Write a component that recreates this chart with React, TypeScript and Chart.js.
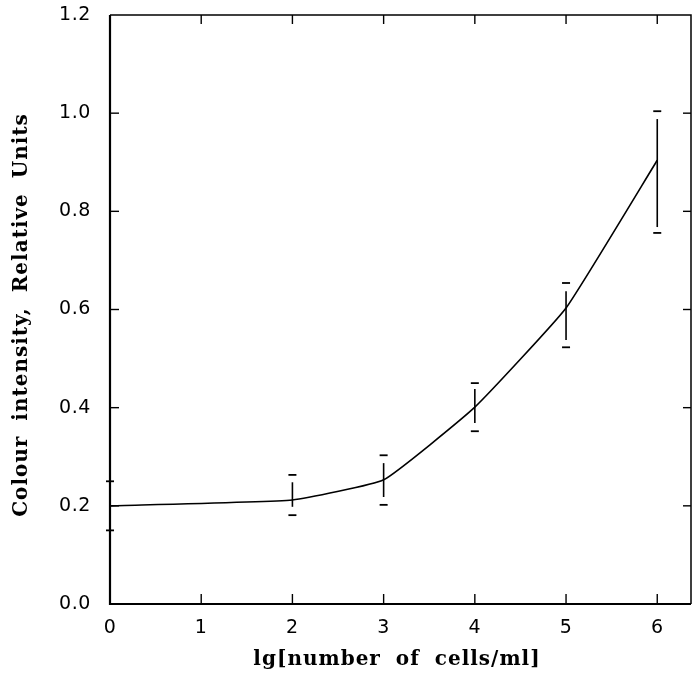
import React, { useEffect, useRef } from "react";
import { Chart, registerables } from "chart.js";

Chart.register(...registerables);

const xValues = [0, 2, 3, 4, 5, 6];
const yValues = [0.2, 0.212, 0.253, 0.401, 0.603, 0.904];
const capHigh = [0.25, 0.263, 0.303, 0.45, 0.654, 1.004];
const capLow = [0.15, 0.181, 0.202, 0.352, 0.523, 0.756];
const barHigh = [0.235, 0.248, 0.287, 0.438, 0.637, 0.988];
const barLow = [0.165, 0.198, 0.218, 0.369, 0.538, 0.768];
const xTicks = [0, 1, 2, 3, 4, 5, 6];
const yTicks = [0, 0.2, 0.4, 0.6, 0.8, 1.0, 1.2];
const xTitle = "lg[number of cells/ml]";
const yTitle = "Colour intensity, Relative Units";

const spacingPlugin = {
  id: "spacing",
  beforeDraw(chart: any) {
    const ctx = chart.ctx as any;
    ctx.letterSpacing = "0.6px";
  },
};

const decorPlugin = {
  id: "decor",
  afterDatasetsDraw(chart: any) {
    const { chartArea, scales } = chart;
    const ctx = chart.ctx as any;
    const xs = scales.x;
    const ys = scales.y;
    const { left, right, top, bottom } = chartArea;
    ctx.save();
    ctx.strokeStyle = "#000";
    // error bars
    for (let i = 0; i < xValues.length; i++) {
      const px = xs.getPixelForValue(xValues[i]);
      ctx.lineWidth = 1.6;
      ctx.beginPath();
      ctx.moveTo(px, ys.getPixelForValue(barHigh[i]));
      ctx.lineTo(px, ys.getPixelForValue(barLow[i]));
      ctx.stroke();
      ctx.lineWidth = 1.8;
      for (const v of [capHigh[i], capLow[i]]) {
        const py = ys.getPixelForValue(v);
        ctx.beginPath();
        ctx.moveTo(px - 4, py);
        ctx.lineTo(px + 4, py);
        ctx.stroke();
      }
    }
    // frame
    ctx.lineWidth = 1.5;
    ctx.beginPath();
    ctx.moveTo(left, top);
    ctx.lineTo(right, top);
    ctx.lineTo(right, bottom);
    ctx.stroke();
    ctx.lineWidth = 2.2;
    ctx.beginPath();
    ctx.moveTo(left, top);
    ctx.lineTo(left, bottom);
    ctx.lineTo(right, bottom);
    ctx.stroke();
    // inward ticks
    ctx.lineWidth = 1.4;
    for (const t of xTicks) {
      const px = xs.getPixelForValue(t);
      if (t !== 0) {
        ctx.beginPath();
        ctx.moveTo(px, bottom);
        ctx.lineTo(px, bottom - 10);
        ctx.stroke();
        ctx.beginPath();
        ctx.moveTo(px, top);
        ctx.lineTo(px, top + 9);
        ctx.stroke();
      }
    }
    for (const t of yTicks) {
      const py = ys.getPixelForValue(t);
      if (t !== 0 && t !== 1.2) {
        ctx.beginPath();
        ctx.moveTo(left, py);
        ctx.lineTo(left + 9, py);
        ctx.stroke();
        ctx.beginPath();
        ctx.moveTo(right, py);
        ctx.lineTo(right - 8, py);
        ctx.stroke();
      }
    }
    // titles
    ctx.fillStyle = "#000";
    ctx.font = "bold 20px 'DejaVu Serif', serif";
    ctx.letterSpacing = "1px";
    ctx.wordSpacing = "7px";
    ctx.textAlign = "center";
    ctx.textBaseline = "middle";
    ctx.fillText(xTitle, 397, 660);
    ctx.save();
    ctx.translate(22, 315);
    ctx.rotate(-Math.PI / 2);
    ctx.fillText(yTitle, 0, 0);
    ctx.restore();
    ctx.restore();
  },
};

export default function App() {
  const ref = useRef<HTMLCanvasElement>(null);
  useEffect(() => {
    document.body.style.margin = "0";
    const chart = new Chart(ref.current!, {
      type: "line",
      data: {
        datasets: [
          {
            data: xValues.map((x, i) => ({ x, y: yValues[i] })),
            borderColor: "#000",
            borderWidth: 1.6,
            pointRadius: 0,
            tension: 0.12,
            fill: false,
          },
        ],
      },
      options: {
        animation: false,
        responsive: false,
        maintainAspectRatio: false,
        layout: { padding: { top: 15, right: 2, left: 0, bottom: 0 } },
        plugins: { legend: { display: false }, tooltip: { enabled: false } },
        scales: {
          x: {
            type: "linear",
            min: 0,
            max: 6.37,
            afterFit(s: any) {
              s.height = 73;
              s.paddingLeft = 0;
              s.paddingRight = 0;
            },
            afterBuildTicks(s: any) {
              s.ticks = xTicks.map((v) => ({ value: v }));
            },
            grid: { display: false, drawTicks: false },
            border: { display: false },
            ticks: {
              color: "#000",
              padding: 13,
              font: { family: "'DejaVu Sans', sans-serif", size: 19 },
              callback: (v: any) => String(v),
            },
          },
          y: {
            type: "linear",
            min: 0,
            max: 1.2,
            afterFit(s: any) {
              s.width = 110;
              s.paddingTop = 0;
              s.paddingBottom = 0;
            },
            afterBuildTicks(s: any) {
              s.ticks = yTicks.map((v) => ({ value: v }));
            },
            grid: { display: false, drawTicks: false },
            border: { display: false },
            ticks: {
              color: "#000",
              padding: 19,
              font: { family: "'DejaVu Sans', sans-serif", size: 19 },
              callback: (v: any) => Number(v).toFixed(1),
            },
          },
        },
      },
      plugins: [spacingPlugin, decorPlugin],
    });
    return () => chart.destroy();
  }, []);
  return (
    <div style={{ width: 693, height: 677 }}>
      <canvas ref={ref} width={693} height={677} />
    </div>
  );
}
